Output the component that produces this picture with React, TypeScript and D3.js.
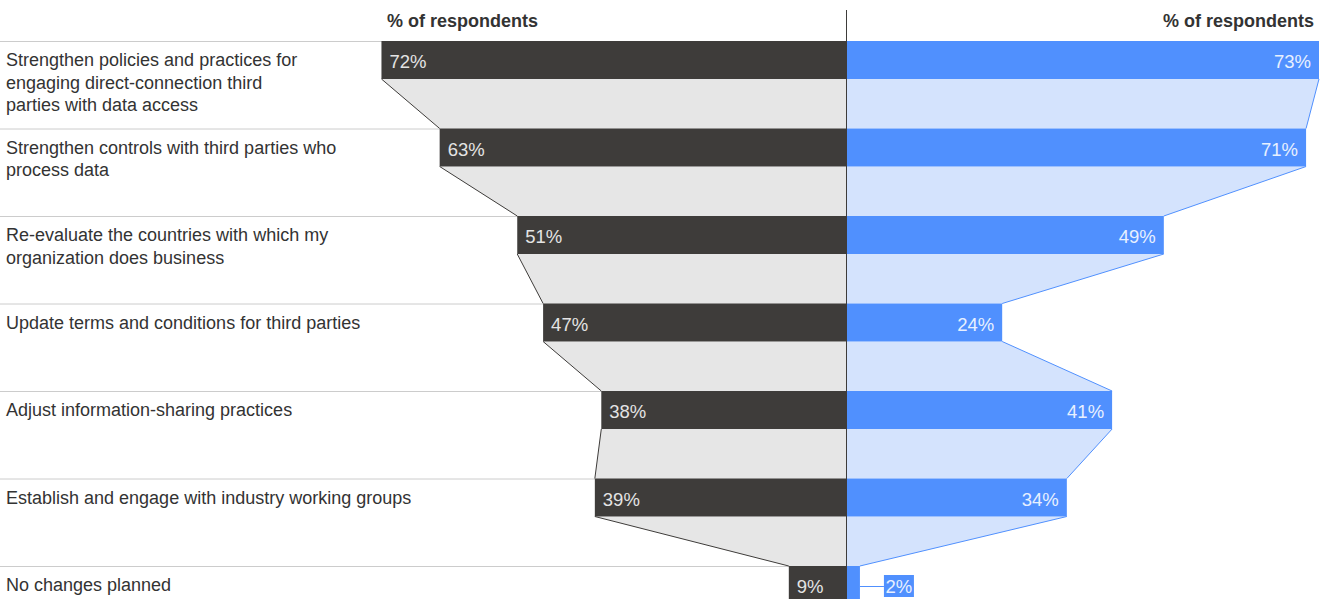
import React, { useRef, useEffect } from 'react';
import * as d3 from 'd3';

// rows, top to bottom
const categories = [
  'Strengthen policies and practices for\nengaging direct-connection third\nparties with data access',
  'Strengthen controls with third parties who\nprocess data',
  'Re-evaluate the countries with which my\norganization does business',
  'Update terms and conditions for third parties',
  'Adjust information-sharing practices',
  'Establish and engage with industry working groups',
  'No changes planned',
];
const leftValues = [72, 63, 51, 47, 38, 39, 9];
const rightValues = [73, 71, 49, 24, 41, 34, 2];
const headerLabel = '% of respondents';

const DARK = '#3e3c3a';
const GREY_FILL = '#e6e6e6';
const BLUE = '#5090fe';
const BLUE_FILL = '#d4e3fd';
const FONT = '"Liberation Sans", Arial, Helvetica, sans-serif';

const App = () => {
  const ref = useRef(null);

  useEffect(() => {
    if (!ref.current) return;
    const width = 1329;
    const height = 599;
    const centre = 847;
    const barH = 38;

    d3.select(ref.current).select('svg').remove();

    const svg = d3.select(ref.current)
      .append('svg')
      .attr('width', width)
      .attr('height', height)
      .style('display', 'block')
      .style('font-family', FONT);

    // rows
    const y = d3.scaleBand<number>()
      .domain(d3.range(categories.length))
      .range([41, 41 + 87.5 * categories.length])
      .padding(0);

    // shared value scale, outward from the centre
    const len = d3.scaleLinear().domain([0, 73]).range([0, 472]);
    const xl = (v: number) => centre - len(v);
    const xr = (v: number) => centre + len(v);

    // row separators
    svg.append('g')
      .selectAll('line')
      .data(categories)
      .join('line')
      .attr('x1', 0)
      .attr('x2', centre)
      .attr('y1', (_, i) => y(i) + 0.5)
      .attr('y2', (_, i) => y(i) + 0.5)
      .attr('stroke', '#cccccc')
      .attr('stroke-width', 1);

    // funnel connectors
    const pairs = d3.range(categories.length - 1);
    const gl = svg.append('g');
    gl.selectAll('path')
      .data(pairs)
      .join('path')
      .attr('d', i => {
        const y0 = y(i) + barH, y1 = y(i + 1);
        return `M${xl(leftValues[i])},${y0}L${centre},${y0}L${centre},${y1}L${xl(leftValues[i + 1])},${y1}Z`;
      })
      .attr('fill', GREY_FILL);
    gl.selectAll('line')
      .data(pairs)
      .join('line')
      .attr('x1', i => xl(leftValues[i]))
      .attr('y1', i => y(i) + barH)
      .attr('x2', i => xl(leftValues[i + 1]))
      .attr('y2', i => y(i + 1))
      .attr('stroke', DARK)
      .attr('stroke-width', 1);

    const gr = svg.append('g');
    gr.selectAll('path')
      .data(pairs)
      .join('path')
      .attr('d', i => {
        const y0 = y(i) + barH, y1 = y(i + 1);
        return `M${centre},${y0}L${xr(rightValues[i])},${y0}L${xr(rightValues[i + 1])},${y1}L${centre},${y1}Z`;
      })
      .attr('fill', BLUE_FILL);
    gr.selectAll('line')
      .data(pairs)
      .join('line')
      .attr('x1', i => xr(rightValues[i]))
      .attr('y1', i => y(i) + barH)
      .attr('x2', i => xr(rightValues[i + 1]))
      .attr('y2', i => y(i + 1))
      .attr('stroke', BLUE)
      .attr('stroke-width', 1);

    // bars
    svg.append('g')
      .selectAll('rect')
      .data(leftValues)
      .join('rect')
      .attr('x', d => xl(d))
      .attr('y', (_, i) => y(i))
      .attr('width', d => len(d))
      .attr('height', barH)
      .attr('fill', DARK);

    svg.append('g')
      .selectAll('rect')
      .data(rightValues)
      .join('rect')
      .attr('x', centre)
      .attr('y', (_, i) => y(i))
      .attr('width', d => len(d))
      .attr('height', barH)
      .attr('fill', BLUE);

    // outside label for tiny right bars: leader line + blue box
    const small = (d: number) => len(d) < 40;
    rightValues.forEach((d, i) => {
      if (!small(d)) return;
      const cy = y(i) + 20;
      svg.append('line')
        .attr('x1', xr(d)).attr('x2', xr(d) + 24)
        .attr('y1', cy + 0.5).attr('y2', cy + 0.5)
        .attr('stroke', BLUE).attr('stroke-width', 1);
      svg.append('rect')
        .attr('x', xr(d) + 24).attr('y', cy - 11)
        .attr('width', 30).attr('height', 22)
        .attr('fill', BLUE);
    });

    // value labels
    svg.append('g')
      .selectAll('text')
      .data(leftValues)
      .join('text')
      .attr('x', d => xl(d) + 8)
      .attr('y', (_, i) => y(i) + 27)
      .attr('font-size', 18.5)
      .attr('fill', '#e4e4e4')
      .text(d => `${d}%`);

    svg.append('g')
      .selectAll('text')
      .data(rightValues)
      .join('text')
      .attr('x', d => small(d) ? xr(d) + 39 : xr(d) - 8)
      .attr('y', (_, i) => y(i) + 27)
      .attr('text-anchor', d => small(d) ? 'middle' : 'end')
      .attr('font-size', 18.5)
      .attr('fill', '#e8f0ff')
      .text(d => `${d}%`);

    // category labels
    svg.append('g')
      .selectAll('text')
      .data(categories)
      .join('text')
      .attr('x', 6)
      .attr('y', (_, i) => y(i) + 25)
      .attr('font-size', 18)
      .attr('fill', '#333333')
      .each(function (d) {
        d3.select(this).selectAll('tspan')
          .data(d.split('\n'))
          .join('tspan')
          .attr('x', 6)
          .attr('dy', (_, j) => (j === 0 ? 0 : 22.5))
          .text(t => t);
      });

    // headers
    svg.append('text')
      .attr('x', 387)
      .attr('y', 27)
      .attr('font-size', 18)
      .attr('font-weight', 'bold')
      .attr('fill', '#333333')
      .text(headerLabel);
    svg.append('text')
      .attr('x', 1314)
      .attr('y', 27)
      .attr('text-anchor', 'end')
      .attr('font-size', 18)
      .attr('font-weight', 'bold')
      .attr('fill', '#333333')
      .text(headerLabel);

    // centre axis
    svg.append('line')
      .attr('x1', centre - 0.5).attr('x2', centre - 0.5)
      .attr('y1', 10).attr('y2', height)
      .attr('stroke', DARK)
      .attr('stroke-width', 1);
  }, []);

  return (
    <div style={{ position: 'absolute', left: 0, top: 0 }}>
      <div ref={ref} />
    </div>
  );
};

export default App;
